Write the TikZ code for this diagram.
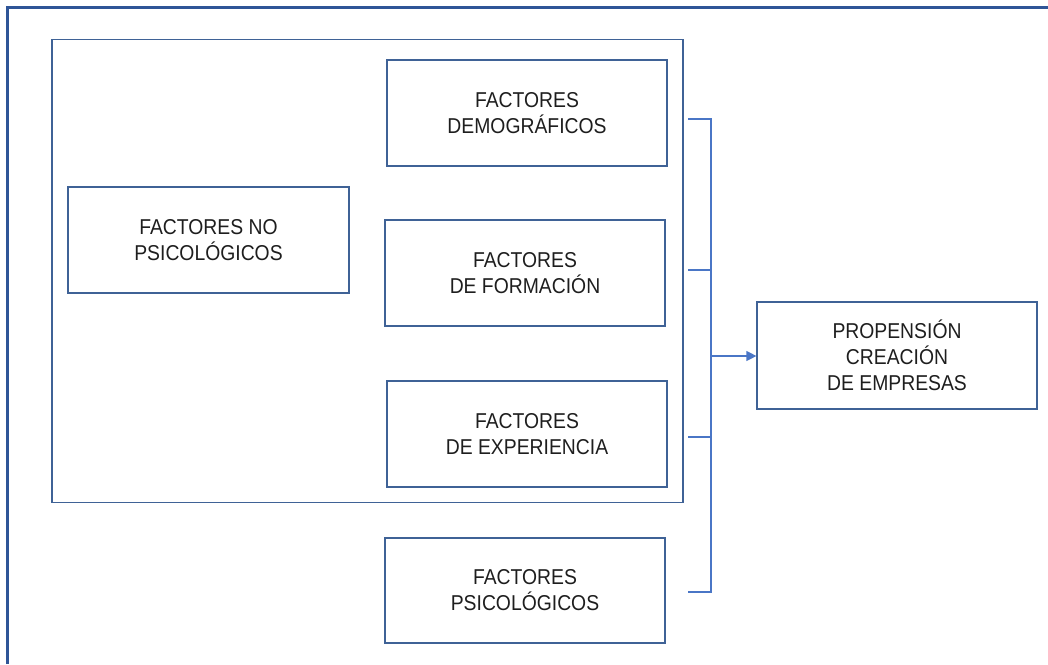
\documentclass[tikz,border=0pt]{standalone}
\usepackage{fontspec}
\setmainfont[FakeStretch=0.9]{Liberation Sans}
\usetikzlibrary{arrows.meta}
\definecolor{boxc}{HTML}{3F6296}
\definecolor{linec}{HTML}{4A76C6}
\definecolor{framec}{HTML}{2F5597}
\definecolor{txt}{HTML}{1E1E1E}
\begin{document}
\begin{tikzpicture}[x=1pt,y=-1pt,
  fbox/.style={draw=boxc,line width=1.2pt,rectangle,minimum width=280pt,minimum height=106pt,
    align=center,inner sep=0pt,text=txt,font=\fontsize{21.5}{26}\selectfont},
  conn/.style={draw=linec,line width=1.2pt}]
\useasboundingbox (0,0) rectangle (1048,664);
\draw[framec,line width=3pt] (7,664) -- (7,7) -- (1048,7);
\node[draw=boxc,line width=1.2pt,minimum width=631pt,minimum height=463pt,inner sep=0pt] (cont) at (367.5,271) {};
\node[fbox] (dem) at (527,113) {FACTORES\\DEMOGRÁFICOS};
\node[fbox] (form) at (525,273) {FACTORES\\DE FORMACIÓN};
\node[fbox] (exp) at (527,434) {FACTORES\\DE EXPERIENCIA};
\node[fbox,minimum height=105pt] (psi) at (525,590.5) {FACTORES\\PSICOLÓGICOS};
\node[fbox,minimum width=281pt] (nopsi) at (208.5,240) {FACTORES NO\\PSICOLÓGICOS};
\node[fbox,minimum height=107pt] (prop) at (897,355.5) {PROPENSIÓN\\CREACIÓN\\DE EMPRESAS};
\coordinate (t1) at (688,119);
\coordinate (t2) at (688,270);
\coordinate (t3) at (688,437);
\coordinate (t4) at (688,592);
\coordinate (b1) at (711,119);
\coordinate (b4) at (711,592);
\coordinate (bm) at (711,356);
\draw[conn] (t1) -- (b1) -- (b4) -- (t4);
\draw[conn] (t2) -- (t2 -| b1);
\draw[conn] (t3) -- (t3 -| b1);
\draw[conn,-{Triangle[length=10pt,width=10pt]}] (bm) -- (bm -| prop.west);
\end{tikzpicture}
\end{document}
